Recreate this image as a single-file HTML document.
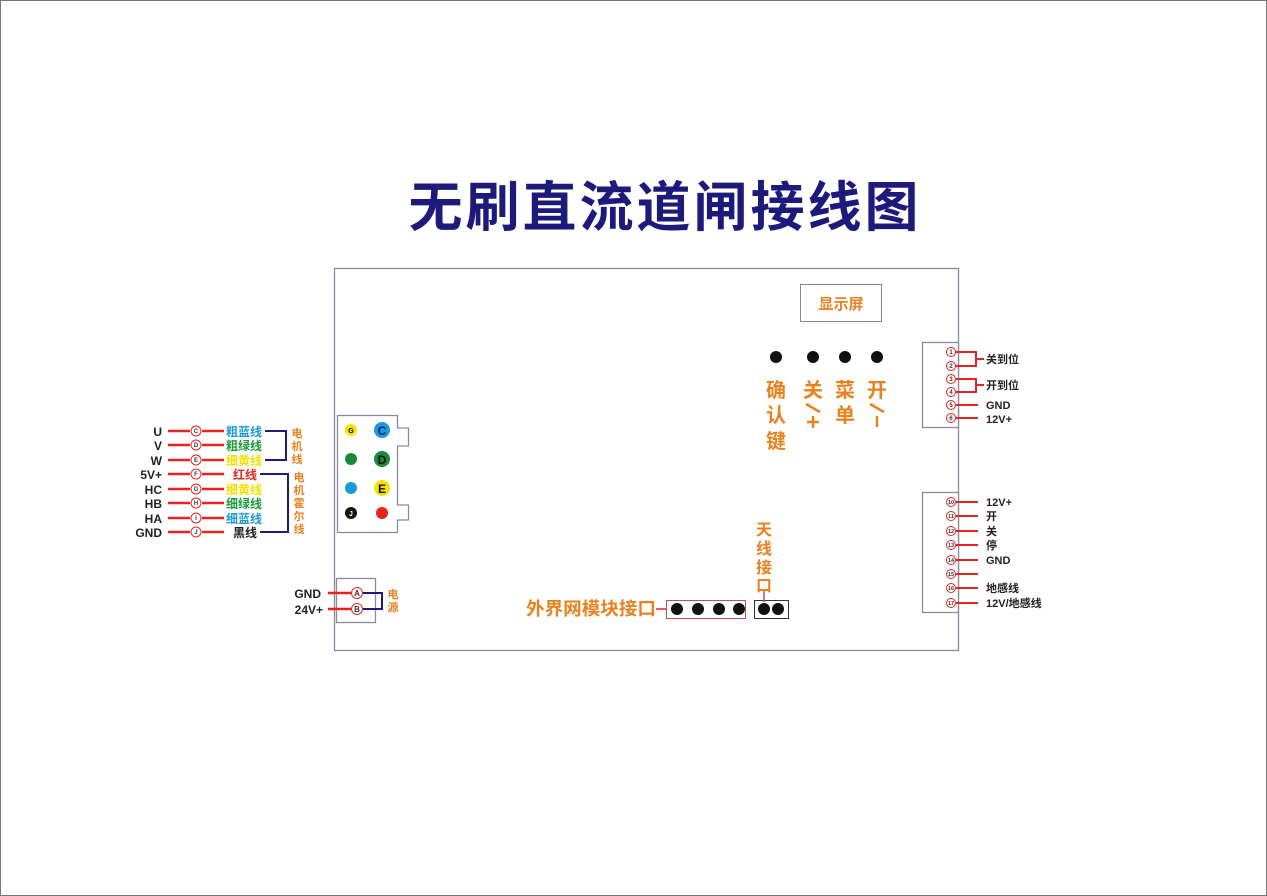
<!DOCTYPE html>
<html><head><meta charset="utf-8"><style>
html,body{margin:0;padding:0;background:#fff}
svg{display:block}
text{font-family:"Liberation Sans","Noto Sans CJK SC",sans-serif;font-weight:bold}
</style></head><body>
<svg width="1267" height="896" viewBox="0 0 1267 896" xmlns="http://www.w3.org/2000/svg">
<rect x="0.5" y="0.5" width="1266" height="895" fill="#fff" stroke="#777"/>
<text x="665" y="226" font-size="54" fill="#1c1a7a" text-anchor="middle" letter-spacing="3">无刷直流道闸接线图</text>

<rect x="334.5" y="268.5" width="624" height="382" fill="none" stroke="#8a8aa0" stroke-width="1.3"/>
<rect x="800.5" y="284.5" width="81" height="37" fill="none" stroke="#888"/>
<text x="841" y="309" font-size="15" fill="#e8821e" text-anchor="middle">显示屏</text>

<g fill="#111"><circle cx="776" cy="357" r="6"/><circle cx="813" cy="357" r="6"/><circle cx="845" cy="357" r="6"/><circle cx="877" cy="357" r="6"/></g>
<g font-size="20" fill="#e8821e" text-anchor="middle">
<text x="776" y="397">确</text><text x="776" y="422">认</text><text x="776" y="448">键</text>
<text x="813" y="397">关</text>
<text x="845" y="397">菜</text><text x="845" y="422">单</text>
<text x="877" y="397">开</text>
</g>
<g stroke="#e8821e" stroke-width="2.5" fill="none">
<line x1="806" y1="404" x2="820" y2="412"/>
<line x1="813" y1="416" x2="813" y2="428"/><line x1="807" y1="422" x2="819" y2="422"/>
<line x1="870" y1="404" x2="884" y2="412"/>
<line x1="877" y1="416" x2="877" y2="427"/>
</g>

<!-- motor connector -->
<path d="M337.5 415.5 H397.5 V428 H408.5 V446 H397.5 V505 H408.5 V520 H397.5 V532.5 H337.5 Z" fill="#fff" stroke="#8a8aa0" stroke-width="1.3"/>
<circle cx="351" cy="430" r="6" fill="#f5e400"/><text x="351" y="433" font-size="7" text-anchor="middle">G</text>
<circle cx="382" cy="430" r="8" fill="#1a9ad6"/><text x="382" y="435" font-size="12" text-anchor="middle" fill="#1c1a7a">C</text>
<circle cx="351" cy="459" r="6" fill="#1a8a3a"/>
<circle cx="382" cy="459" r="8" fill="#1a8a3a"/><text x="382" y="464" font-size="12" text-anchor="middle" fill="#111">D</text>
<circle cx="351" cy="488" r="6" fill="#1a9ad6"/>
<circle cx="382" cy="488" r="8" fill="#f5e400"/><text x="382" y="493" font-size="12" text-anchor="middle" fill="#111">E</text>
<circle cx="351" cy="513" r="6" fill="#111"/><text x="351" y="516" font-size="7" text-anchor="middle" fill="#fff">J</text>
<circle cx="382" cy="513" r="6" fill="#e52420"/>

<!-- left wires -->
<g font-size="12">
<g fill="#222" text-anchor="end">
<text x="162" y="436">U</text><text x="162" y="450">V</text><text x="162" y="465">W</text><text x="162" y="479">5V+</text>
<text x="162" y="494">HC</text><text x="162" y="508">HB</text><text x="162" y="523">HA</text><text x="162" y="537">GND</text>
</g>
<g stroke="#e52420" stroke-width="2.5">
<line x1="168" y1="431" x2="190" y2="431"/><line x1="202" y1="431" x2="224" y2="431"/>
<line x1="168" y1="445" x2="190" y2="445"/><line x1="202" y1="445" x2="224" y2="445"/>
<line x1="168" y1="460" x2="190" y2="460"/><line x1="202" y1="460" x2="224" y2="460"/>
<line x1="168" y1="474" x2="190" y2="474"/><line x1="202" y1="474" x2="224" y2="474"/>
<line x1="168" y1="489" x2="190" y2="489"/><line x1="202" y1="489" x2="224" y2="489"/>
<line x1="168" y1="503" x2="190" y2="503"/><line x1="202" y1="503" x2="224" y2="503"/>
<line x1="168" y1="518" x2="190" y2="518"/><line x1="202" y1="518" x2="224" y2="518"/>
<line x1="168" y1="532" x2="190" y2="532"/><line x1="202" y1="532" x2="224" y2="532"/>
</g>
<g fill="#fff" stroke="#e52420" stroke-width="1">
<circle cx="196" cy="431" r="5"/><circle cx="196" cy="445" r="5"/><circle cx="196" cy="460" r="5"/><circle cx="196" cy="474" r="5"/>
<circle cx="196" cy="489" r="5"/><circle cx="196" cy="503" r="5"/><circle cx="196" cy="518" r="5"/><circle cx="196" cy="532" r="5"/>
</g>
<g font-size="6" fill="#333" text-anchor="middle" font-weight="normal">
<text x="196" y="433">C</text><text x="196" y="447">D</text><text x="196" y="462">E</text><text x="196" y="476">F</text>
<text x="196" y="491">G</text><text x="196" y="505">H</text><text x="196" y="520">I</text><text x="196" y="534">J</text>
</g>
<text x="226" y="436" fill="#1a9ad6">粗蓝线</text>
<text x="226" y="450" fill="#1a9a3a">粗绿线</text>
<text x="226" y="465" fill="#f0e000">细黄线</text>
<text x="233" y="479" fill="#e52420">红线</text>
<text x="226" y="494" fill="#f0e000">细黄线</text>
<text x="226" y="508" fill="#1a9a3a">细绿线</text>
<text x="226" y="523" fill="#1a9ad6">细蓝线</text>
<text x="233" y="537" fill="#222">黑线</text>
</g>
<g stroke="#1c1a7a" stroke-width="2" fill="none">
<path d="M265 431 H286 V460 H265"/>
<path d="M260 474 H288 V532 H260"/>
</g>
<g font-size="11" fill="#e8821e" text-anchor="middle">
<text x="297" y="437">电</text><text x="297" y="450">机</text><text x="297" y="463">线</text>
<text x="299" y="481">电</text><text x="299" y="494">机</text><text x="299" y="507">霍</text><text x="299" y="520">尔</text><text x="299" y="533">线</text>
</g>

<!-- power -->
<rect x="336.5" y="578.5" width="39" height="44" fill="#fff" stroke="#8a8aa0" stroke-width="1.3"/>
<g font-size="12" fill="#222" text-anchor="end"><text x="321" y="598">GND</text><text x="323" y="614">24V+</text></g>
<g stroke="#e52420" stroke-width="2.5"><line x1="328" y1="593" x2="351" y2="593"/><line x1="328" y1="609" x2="351" y2="609"/></g>
<path d="M363 593 H382 V609 H363" stroke="#1c1a7a" stroke-width="2" fill="none"/>
<circle cx="357" cy="593" r="5.5" fill="#fff" stroke="#e52420"/><circle cx="357" cy="609" r="5.5" fill="#fff" stroke="#e52420"/>
<text x="357" y="596" font-size="8" text-anchor="middle" fill="#333">A</text><text x="357" y="612" font-size="8" text-anchor="middle" fill="#333">B</text>
<g font-size="11" fill="#e8821e" text-anchor="middle"><text x="393" y="598">电</text><text x="393" y="611">源</text></g>

<!-- bottom connectors -->
<text x="526" y="615" font-size="18" fill="#e8821e" textLength="130" lengthAdjust="spacingAndGlyphs">外界网模块接口</text>
<line x1="656" y1="609" x2="666" y2="609" stroke="#e52420" stroke-width="1.5"/>
<rect x="666.5" y="600.5" width="79" height="18" fill="none" stroke="#c05050"/>
<g fill="#111"><circle cx="677" cy="609" r="6"/><circle cx="698" cy="609" r="6"/><circle cx="719" cy="609" r="6"/><circle cx="739" cy="609" r="6"/>
<circle cx="764" cy="609" r="6"/><circle cx="778" cy="609" r="6"/></g>
<rect x="754.5" y="600.5" width="34" height="18" fill="none" stroke="#333"/>
<line x1="764" y1="591" x2="764" y2="602" stroke="#c05050" stroke-width="1.5"/>
<g font-size="16" fill="#e8821e" text-anchor="middle"><text x="764" y="535">天</text><text x="764" y="554">线</text><text x="764" y="573">接</text><text x="764" y="591">口</text></g>

<!-- right connector 1 -->
<rect x="922.5" y="342.5" width="36" height="85" fill="#fff" stroke="#8a8aa0" stroke-width="1.3"/>
<g stroke="#e52420" stroke-width="2" fill="none">
<path d="M956 352 H976 V366 H956"/><line x1="976" y1="359" x2="984" y2="359"/>
<path d="M956 379 H976 V392 H956"/><line x1="976" y1="385" x2="984" y2="385"/>
<line x1="956" y1="405" x2="978" y2="405"/><line x1="956" y1="418" x2="978" y2="418"/>
</g>
<g fill="#fff" stroke="#e52420"><circle cx="951" cy="352" r="4.5"/><circle cx="951" cy="366" r="4.5"/><circle cx="951" cy="379" r="4.5"/><circle cx="951" cy="392" r="4.5"/><circle cx="951" cy="405" r="4.5"/><circle cx="951" cy="418" r="4.5"/></g>
<g font-size="6" text-anchor="middle" fill="#333" font-weight="normal"><text x="951" y="354">1</text><text x="951" y="368">2</text><text x="951" y="381">3</text><text x="951" y="394">4</text><text x="951" y="407">5</text><text x="951" y="420">6</text></g>
<g font-size="11" fill="#222"><text x="986" y="363">关到位</text><text x="986" y="389">开到位</text><text x="986" y="409">GND</text><text x="986" y="423">12V+</text></g>

<!-- right connector 2 -->
<rect x="922.5" y="492.5" width="36" height="120" fill="#fff" stroke="#8a8aa0" stroke-width="1.3"/>
<g stroke="#e52420" stroke-width="2">
<line x1="956" y1="502" x2="978" y2="502"/><line x1="956" y1="516" x2="978" y2="516"/><line x1="956" y1="531" x2="978" y2="531"/><line x1="956" y1="545" x2="978" y2="545"/>
<line x1="956" y1="560" x2="978" y2="560"/><line x1="956" y1="574" x2="978" y2="574"/><line x1="956" y1="588" x2="978" y2="588"/><line x1="956" y1="603" x2="978" y2="603"/>
</g>
<g fill="#fff" stroke="#e52420"><circle cx="951" cy="502" r="4.5"/><circle cx="951" cy="516" r="4.5"/><circle cx="951" cy="531" r="4.5"/><circle cx="951" cy="545" r="4.5"/><circle cx="951" cy="560" r="4.5"/><circle cx="951" cy="574" r="4.5"/><circle cx="951" cy="588" r="4.5"/><circle cx="951" cy="603" r="4.5"/></g>
<g font-size="5.5" text-anchor="middle" fill="#333" font-weight="normal"><text x="951" y="504">10</text><text x="951" y="518">11</text><text x="951" y="533">12</text><text x="951" y="547">13</text><text x="951" y="562">14</text><text x="951" y="576">15</text><text x="951" y="590">16</text><text x="951" y="605">17</text></g>
<g font-size="11" fill="#222"><text x="986" y="506">12V+</text><text x="986" y="520">开</text><text x="986" y="535">关</text><text x="986" y="549">停</text><text x="986" y="564">GND</text><text x="986" y="592">地感线</text><text x="986" y="607">12V/地感线</text></g>
</svg>
</body></html>
